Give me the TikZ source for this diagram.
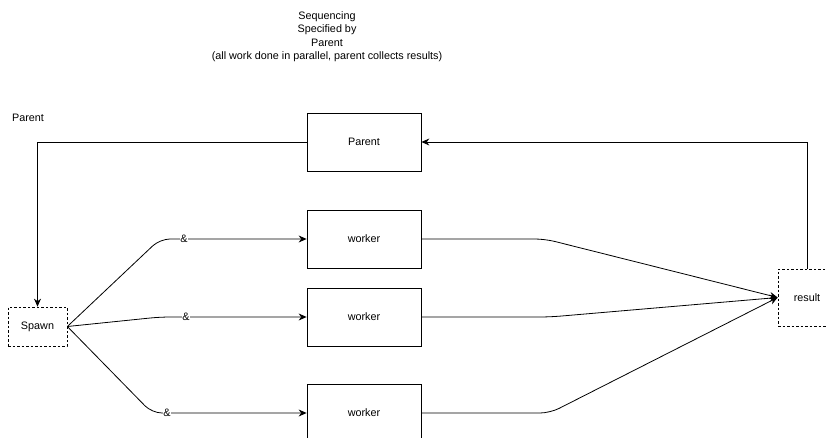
\documentclass[tikz,border=0pt]{standalone}
\usepackage{fontspec}
\setmainfont{Liberation Sans}
\usetikzlibrary{arrows.meta}
\begin{document}
\begin{tikzpicture}[x=1pt,y=-1pt,
  font=\fontsize{10.8}{13.5}\selectfont,
  box/.style={draw, line width=0.8pt, minimum width=114pt, minimum height=58pt, inner sep=0pt},
  dbox/.style={draw, line width=0.7pt, dash pattern=on 2.5pt off 2pt, inner sep=0pt},
  conn/.style={line width=0.8pt, -{Stealth[length=8pt,width=7pt]}, rounded corners=10pt},
  amp/.style={fill=white, inner sep=0.6pt}]
\useasboundingbox (0,0) rectangle (826,438);
% nodes
\node[align=center] (title) at (327,36.5) {Sequencing\\Specified by\\Parent\\(all work done in parallel, parent collects results)};
\node (plabel) at (28,118) {Parent};
\node[box] (parent) at (364,142) {Parent};
\node[box] (w1) at (364,239) {worker};
\node[box] (w2) at (364,317) {worker};
\node[box] (w3) at (364,413) {worker};
\node[dbox, minimum width=59pt, minimum height=39pt] (spawn) at (37.5,326.5) {Spawn};
\node[dbox, minimum width=58pt, minimum height=57pt] (result) at (807,297.5) {result};
% bend points
\coordinate (b1) at (160,239);
\coordinate (b2) at (160,317);
\coordinate (b3) at (152,413);
\coordinate (c1) at (545,239);
\coordinate (c2) at (550,317);
\coordinate (c3) at (550,413);
% connectors
\draw[conn, rounded corners=0pt] (parent.west) -| (spawn.north);
\draw[conn, rounded corners=0pt] (result.north) |- (parent.east);
\draw[conn] (spawn.east) -- (b1) -- (w1.west);
\draw[conn] (spawn.east) -- (b2) -- (w2.west);
\draw[conn] (spawn.east) -- (b3) -- (w3.west);
\draw[conn] (w1.east) -- (c1) -- (result.west);
\draw[conn] (w2.east) -- (c2) -- (result.west);
\draw[conn] (w3.east) -- (c3) -- (result.west);
% labels
\node[amp] (a1) at (184,239) {\&};
\node[amp] (a2) at (186,317) {\&};
\node[amp] (a3) at (167,413) {\&};
\end{tikzpicture}
\end{document}
